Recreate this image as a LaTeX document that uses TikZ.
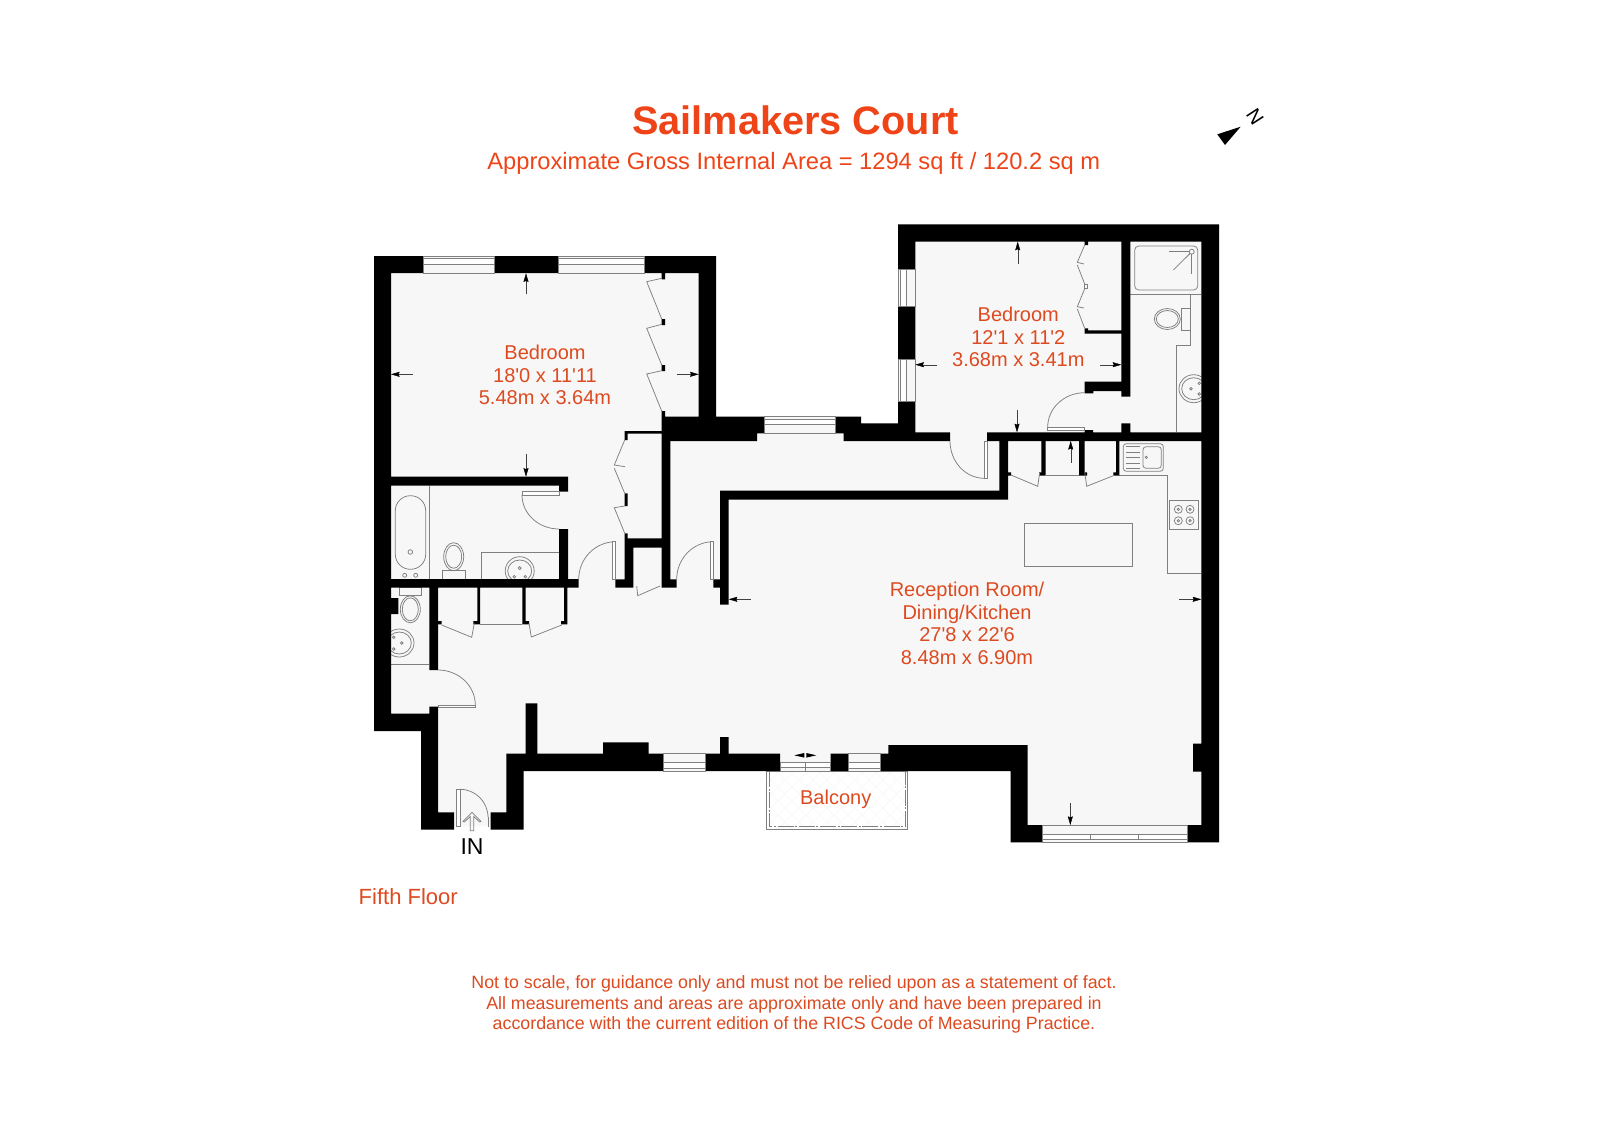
\documentclass[tikz,border=0pt]{standalone}
\usepackage{fontspec}
\setmainfont[Ligatures=TeXOff]{Liberation Sans}
\usetikzlibrary{arrows.meta,calc}
\definecolor{floorc}{HTML}{F7F7F7}
\definecolor{linec}{HTML}{808080}
\definecolor{titlec}{HTML}{EF4318}
\definecolor{textc}{HTML}{DE4A20}
\tikzset{
  wall/.style={fill=black},
  thinl/.style={draw=linec,line width=0.38pt},
  fixture/.style={draw=linec,line width=0.38pt,fill=floorc},
  leaf/.style={draw=linec,line width=0.38pt,fill=white},
  measure/.style={draw=black!75,line width=0.2pt,-{Stealth[length=4.3pt,width=2.5pt,inset=0.5pt,black]}},
  lab/.style={text=textc,align=center,font=\fontsize{10}{11.25}\selectfont,inner sep=0pt},
}
\newcommand{\winh}[6]{\fill[fixture] (#1,#3) rectangle (#2,#4);\fill[fixture,fill=white] (#1,#5) rectangle (#2,#6);}
\newcommand{\winv}[6]{\fill[fixture] (#1,#3) rectangle (#2,#4);\fill[fixture,fill=white] (#5,#3) rectangle (#6,#4);}
\newcommand{\qarc}[3]{\draw[thinl] (#1) .. controls ($(#1)!0.5523!(#2)$) and ($(#3)!0.5523!(#2)$) .. (#3);}
\begin{document}
\begin{tikzpicture}[x=0.5pt,y=-0.5pt]
\useasboundingbox (0,0) rectangle (1600,1130);
\fill[white] (0,0) rectangle (1600,1130);
% floor
\fill[floorc] (374,256)--(716,256)--(716,416.7)--(861,416.7)--(861,423.3)--(898,423.3)--(898,224.3)--(1219,224.3)--(1219,842.3)--(1010.7,842.3)--(1010.7,771)--(523.7,771)--(523.7,826)--(421,826)--(421,731)--(374,731)--cycle;
% balcony
\begin{scope}
\clip (766.3,771) rectangle (907.7,829.7);
\foreach \k in {0,14,...,230}{
  \draw[draw=black!3,line width=0.2pt] (766+\k-60,771)--(766+\k,831);
  \draw[draw=black!3,line width=0.2pt] (766+\k,771)--(766+\k-60,831);
}
\end{scope}
\draw[thinl] (766.3,771) rectangle (907.7,829.7);
\draw[thinl,dash pattern=on 8pt off 0.8pt on 1pt off 0.8pt] (769.7,771)--(769.7,826.7)--(905,826.7)--(905,771);
% kitchen
\draw[thinl] (1119.3,475.7)--(1167.3,475.7)--(1167.3,573.3)--(1201.3,573.3);
\draw[thinl] (1045.7,475.7)--(1079,475.7);
\draw[thinl] (480,624.3)--(522.3,624.3);
\draw[thinl] (1024.3,523.7) rectangle (1132.3,566.7);
\draw[thinl] (1169.7,500.3) rectangle (1198.7,529);
\foreach \a in {1178.3,1190}\foreach \b in {509.3,520.7}{
  \draw[thinl] (\a,\b) circle[radius=4];
  \draw[thinl] (\a,\b) circle[radius=1.2];
}
\draw[thinl,rounded corners=1.5pt] (1123.3,443.7) rectangle (1163.3,471.3);
\draw[thinl,rounded corners=1.5pt] (1143,446.7) rectangle (1161.3,468.3);
\draw[thinl] (1146.3,457.3) circle[radius=1.2];
\foreach \b in {446.7,452,457.5,463,468.3}{\draw[thinl] (1126,\b)--(1140,\b);}
% bathroom
\draw[thinl] (429.3,485.7)--(429.3,579);
\draw[thinl,rounded corners=7.5pt] (395.3,495.7) rectangle (425.7,569.3);
\draw[thinl] (410.3,552) circle[radius=2.3];
\draw[thinl] (404.7,575.3) circle[radius=2];
\draw[thinl] (415.7,575.3) circle[radius=2];
\draw[thinl] (442.7,570.7) rectangle (465,579);
\draw[thinl] (453.7,556.7) ellipse[x radius=10,y radius=14];
\draw[thinl] (453.7,556.7) ellipse[x radius=8,y radius=11.5];
\draw[thinl] (481.7,579)--(481.7,552.7)--(559,552.7);
\draw[thinl] (519.7,571) ellipse[x radius=14.5,y radius=14.3];
\draw[thinl] (519.7,571) ellipse[x radius=12,y radius=11];
\draw[thinl] (519.7,568) circle[radius=1.5];
\draw[thinl] (514.3,576.7) circle[radius=1.3];
\draw[thinl] (525.3,576.7) circle[radius=1.3];
% wc
\draw[thinl] (391,664.3)--(429.3,664.3);
\draw[thinl] (399.3,587.3) rectangle (421.7,595.7);
\draw[thinl] (410.3,609.3) ellipse[x radius=10,y radius=13.5];
\draw[thinl] (410.3,609.3) ellipse[x radius=8,y radius=11.5];
\draw[thinl] (399.3,643) ellipse[x radius=14.7,y radius=14];
\draw[thinl] (399.3,643) ellipse[x radius=12,y radius=11];
\draw[thinl] (393.7,637.3) circle[radius=1.3];
\draw[thinl] (393.7,649) circle[radius=1.3];
\draw[thinl] (401.7,643) circle[radius=1.3];
% shower room
\draw[thinl] (1130.3,294)--(1201.3,294);
\draw[thinl,rounded corners=2pt] (1134.7,246) rectangle (1197.7,290);
\draw[thinl] (1191.7,251.7) circle[radius=2.5];
\draw[thinl] (1189.2,251.7)--(1169.3,251.7);
\draw[thinl] (1190,253.5)--(1173.3,270);
\draw[thinl] (1191.7,254.2)--(1191.7,274);
\draw[thinl] (1190.3,294)--(1190.3,345.3)--(1176,345.3)--(1176,432.3);
\draw[thinl] (1181.7,308.7) rectangle (1190.3,330.7);
\draw[thinl] (1167.3,319) ellipse[x radius=13,y radius=10.5];
\draw[thinl] (1167.3,319) ellipse[x radius=11,y radius=8.5];
\draw[thinl] (1193.7,388.7) ellipse[x radius=14.7,y radius=14];
\draw[thinl] (1193.7,388.7) ellipse[x radius=12,y radius=11];
\draw[thinl] (1191,388.7) circle[radius=1.3];
\draw[thinl] (1199.3,383.3) circle[radius=1.3];
\draw[thinl] (1199.3,394) circle[radius=1.3];
% walls
\fill[wall]
 (374,256) rectangle (391,731)
 (374,256) rectangle (423.3,273)
 (494.7,256) rectangle (558,273)
 (644.3,256) rectangle (716,273)
 (698.7,256) rectangle (716,433.3)
 (662,416.7) rectangle (764.3,433.3)
 (662,433.3) rectangle (757,441)
 (835,416.7) rectangle (861,433.3)
 (843.7,433.3) rectangle (861,441)
 (861,423.3) rectangle (915.3,441)
 (915.3,432.3) rectangle (950,441)
 (898,224.3) rectangle (915.3,269.3)
 (898,306.7) rectangle (915.3,359.3)
 (898,401.3) rectangle (915.3,441)
 (898,224.3) rectangle (1219,241.7)
 (1201.3,224.3) rectangle (1219,842.3)
 (374,713.7) rectangle (438,731)
 (421,731) rectangle (438,829.7)
 (429.3,706.7) rectangle (438,731)
 (429.3,587) rectangle (438,670)
 (421,812.3) rectangle (454,829.7)
 (490.7,812.3) rectangle (523.7,829.7)
 (506.3,753.7) rectangle (523.7,829.7)
 (506.3,753.7) rectangle (663.3,771)
 (705.7,753.7) rectangle (780,771)
 (830.7,753.7) rectangle (848.7,771)
 (880.7,753.7) rectangle (1010.7,771)
 (888.3,745) rectangle (1027.7,771)
 (1010.7,745) rectangle (1027.7,842.3)
 (1010.7,825) rectangle (1042,842.3)
 (1187.3,825) rectangle (1219,842.3)
 (1193,743.7) rectangle (1201.3,771.7)
 (525.7,703.3) rectangle (537.3,753.7)
 (603,742.3) rectangle (648.7,753.7)
 (720,737) rectangle (728.7,753.7)
 (391,598) rectangle (398.3,614)
 % bedroom / bath partition
 (391,476.7) rectangle (568,485.7)
 (559,485.7) rectangle (568,491.7)
 (559,529) rectangle (568,579)
 (391,579) rectangle (578.7,587.5)
 % cupboards under the bath
 (477.3,587) rectangle (480,624.3)
 (473.3,621) rectangle (480,624.3)
 (522.3,587) rectangle (525.7,624.3)
 (522.3,621) rectangle (529,624.3)
 (564,587) rectangle (567.3,624.3)
 (561,621) rectangle (567.3,624.3)
 (438,621) rectangle (441.7,624.3)
 % corridor spine
 (661.7,416.7) rectangle (670.3,587.7)
 (624.7,431) rectangle (661.7,433.7)
 (624.7,431) rectangle (627.7,440)
 (624.7,493.3) rectangle (627.7,506)
 (624.7,533.3) rectangle (627.7,547.7)
 (624.7,538.3) rectangle (662,547.7)
 (624.7,538.3) rectangle (633.3,587.7)
 (615.3,579.3) rectangle (633.3,587.7)
 (661.7,579.3) rectangle (676.7,587.7)
 (661.7,273) rectangle (665,279.3)
 (661.7,319) rectangle (665,325)
 (661.7,365) rectangle (665,371)
 (661.7,411) rectangle (665,417)
 % reception north wall
 (720,490.5) rectangle (1008,499.5)
 (720,490.5) rectangle (728.7,604.7)
 (713.3,579.3) rectangle (720,587.7)
 (999.3,441) rectangle (1008,499.5)
 (987,432.3) rectangle (1201.3,441)
 (1041.3,441) rectangle (1045.7,475.7)
 (1039,472.3) rectangle (1045.7,475.7)
 (1079,441) rectangle (1084.7,475.7)
 (1079,472.3) rectangle (1087,475.7)
 (1116,441) rectangle (1119.3,475.7)
 (1113.3,472.3) rectangle (1119.3,475.7)
 (1008,472.3) rectangle (1011,475.7)
 % second bedroom
 (1121.3,241.7) rectangle (1130.3,396.7)
 (1121.3,423.3) rectangle (1130.3,432.3)
 (1084.7,330.3) rectangle (1121.3,333.7)
 (1084.7,328.3) rectangle (1088,333.7)
 (1093.3,381.7) rectangle (1121.3,391)
 (1084.7,381.7) rectangle (1093.3,393.3)
 (1084.7,430) rectangle (1093,432.3)
 (1084.7,241.7) rectangle (1088,245);
% windows
\winh{423.3}{494.7}{256}{273}{258.5}{264}
\winh{558}{644.3}{256}{273}{258.5}{264}
\winh{764.3}{835}{416.7}{433.3}{419}{424.5}
\winh{663.3}{705.7}{753.7}{771}{762.7}{768.3}
\winh{848.7}{880.7}{753.7}{771}{762.7}{768.3}
\winh{780}{830.7}{762}{771}{762}{767}
\draw[thinl] (805.3,762)--(805.3,771);
\winv{898}{915.3}{269.3}{306.7}{900.5}{906.5}
\winv{898}{915.3}{359.3}{401.3}{900.5}{906.5}
\winh{1042}{1187.3}{825}{842.3}{834}{839.7}
\draw[thinl] (1090.7,834)--(1090.7,839.7) (1138.3,834)--(1138.3,839.7);
% wardrobe doors
\draw[thinl] (661.7,278.3)--(646.7,281.7)--(661.7,319);
\draw[thinl] (661.7,324.3)--(646.7,328.3)--(661.7,365);
\draw[thinl] (661.7,370.7)--(646.7,374)--(661.7,411);
\draw[thinl] (624.7,440)--(614.3,465)--(625,466.7);
\draw[thinl] (614.3,468.3)--(624.7,493.3);
\draw[thinl] (624.7,506)--(614.3,507.7)--(624.7,533.3);
\draw[thinl] (1084.7,245)--(1077.3,262.3)--(1084,264);
\draw[thinl] (1077.3,265)--(1084.7,284);
\draw[thinl] (1084.7,288.7)--(1077.3,306.7)--(1084,308);
\draw[thinl] (1077.3,309)--(1084.7,328.3);
\draw[thinl] (1084,284) rectangle (1087,288.7);
% cupboard doors
\draw[thinl] (441.7,625)--(471.7,637.3)--(474.3,623.3);
\draw[thinl] (561.7,625)--(531.3,637)--(529,623.3);
\draw[thinl] (636.7,586)--(637.7,595.7)--(660,586);
\draw[thinl] (1011,475)--(1037.7,486.3)--(1039.7,472.3);
\draw[thinl] (1113.3,475.7)--(1086.7,486.3)--(1084.7,472.3);
% hinged doors
\qarc{950,441}{950,478.3}{984.3,478.3}
\fill[leaf] (984.3,441) rectangle (987.7,478.3);
\qarc{1047.7,427}{1047.7,392.7}{1084.7,392.7}
\fill[leaf] (1047.7,427) rectangle (1084.7,430.5);
\qarc{522,495}{522,529}{559,529}
\fill[leaf] (522,491.7) rectangle (559,495);
\qarc{615.7,541.7}{578.7,541.7}{578.7,579.3}
\fill[leaf] (612.3,541.7) rectangle (615.7,579.3);
\qarc{713.3,541.7}{676.7,541.7}{676.7,579.3}
\fill[leaf] (710.7,541.7) rectangle (713.3,579.3);
\qarc{438,670}{475.3,670}{475.3,705}
\fill[leaf] (438,705) rectangle (475.7,707);
\qarc{460,789.3}{488,789.3}{488,817.3}
\draw[thinl] (488,817.3)--(488,826.7);
\fill[leaf] (456.7,789.3) rectangle (460,826.7);
% entrance arrow
\draw[thinl] (472,812.3)--(481,821.3)--(479.7,822)--(473.7,816.5)--(473.7,830.7)--(470.3,830.7)--(470.3,816.5)--(464.3,822)--(463,821.3)--cycle;
% measure arrows
\draw[measure] (526,294.3)--(526,273.3);
\draw[measure] (412.7,374.3)--(391,374.3);
\draw[measure] (676.7,374.3)--(698.7,374.3);
\draw[measure] (526,454.3)--(526,476.7);
\draw[measure] (1017.7,263.7)--(1017.7,241.7);
\draw[measure] (937.3,364.7)--(915.3,364.7);
\draw[measure] (1100,364.7)--(1121.3,364.7);
\draw[measure] (1017,410)--(1017,432.3);
\draw[measure] (1070.7,462.7)--(1070.7,441);
\draw[measure] (750.7,599.3)--(728.7,599.3);
\draw[measure] (1179,599.3)--(1201.3,599.3);
\draw[measure] (1070.3,803)--(1070.3,825);
\fill (794.3,755.3)--(804.3,753)--(804.3,757.6)--cycle;
\fill (816.3,755.3)--(806.3,753)--(806.3,757.6)--cycle;
% compass
\fill (1240.7,126.7)--(1217.3,134.3)--(1225,145)--cycle;
\node[text=black,font=\fontsize{10}{12}\selectfont,rotate=-57,inner sep=0pt] (north) at (1255,116.7) {N};
% texts
\node[text=titlec,font=\fontsize{19.85}{24}\selectfont\bfseries,inner sep=0pt] (title) at (795.5,120) {Sailmakers Court};
\node[text=titlec,font=\fontsize{11.84}{14}\selectfont,inner sep=0pt] (area) at (793.8,163) {Approximate Gross Internal Area = 1294 sq ft / 120.2 sq m};
\node[lab] (bed1) at (545,375) {Bedroom\\18'0 x 11'11\\5.48m x 3.64m};
\node[lab] (bed2) at (1018.3,337) {Bedroom\\12'1 x 11'2\\3.68m x 3.41m};
\node[lab] (recep) at (967,623.5) {Reception Room/\\Dining/Kitchen\\27'8 x 22'6\\8.48m x 6.90m};
\node[lab] (balc) at (835.7,799) {Balcony};
\node[text=black,font=\fontsize{11.5}{13}\selectfont,inner sep=0pt] (inlab) at (472,846.7) {IN};
\node[text=textc,font=\fontsize{11}{13}\selectfont,inner sep=0pt,anchor=west] (floorlab) at (358.3,896.5) {Fifth Floor};
\node[text=textc,align=center,font=\fontsize{8.9}{10.3}\selectfont,inner sep=0pt] (note) at (794,1004.5) {Not to scale, for guidance only and must not be relied upon as a statement of fact.\\All measurements and areas are approximate only and have been prepared in\\accordance with the current edition of the RICS Code of Measuring Practice.};
\end{tikzpicture}
\end{document}
